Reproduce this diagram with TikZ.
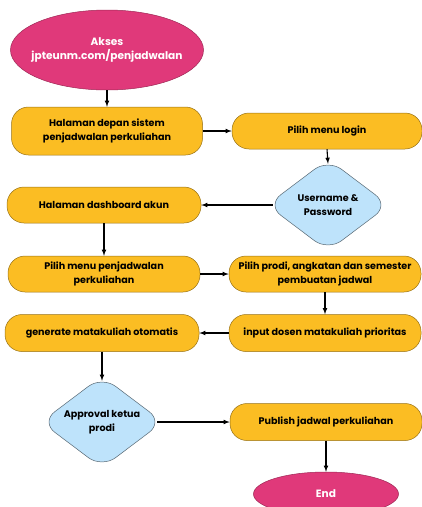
\documentclass[tikz,border=0pt]{standalone}
\usepackage{fontspec}
\setmainfont{Poppins}
\usepackage{tikz}
\usetikzlibrary{shapes.geometric, arrows, positioning}

\definecolor{termpink}{HTML}{E0397A}
\definecolor{procyellow}{HTML}{FBBD23}
\definecolor{decblue}{HTML}{BEE3FB}

\begin{document}
\begin{tikzpicture}[
    x=1pt, y=-1pt,
    terminal/.style={ellipse, draw=termpink!70!black, fill=termpink, line width=0.5pt, inner sep=0pt, inner xsep=-25pt, align=center, text=white, font=\bfseries\fontsize{10.6}{14.5}\selectfont},
    process/.style={rectangle, rounded corners=17pt, draw=procyellow!60!black, fill=procyellow, line width=0.5pt, minimum width=192pt, minimum height=36pt, inner sep=1pt, align=center, font=\bfseries\fontsize{9.6}{14}\selectfont},
    decision/.style={diamond, aspect=1.35, rounded corners=17pt, draw=decblue!45!black, fill=decblue, line width=0.5pt, minimum width=122pt, minimum height=92pt, inner sep=0pt, align=center, font=\bfseries\fontsize{9.6}{14}\selectfont},
    flow/.style={-latex, line width=1.1pt, black}
]
    \useasboundingbox (0,0) rectangle (422,507);

    % Start and login
    \node[terminal, minimum width=193pt, minimum height=80pt] (start) at (107,50) {Akses\\jpteunm.com/penjadwalan};
    \node[process, minimum width=191pt, minimum height=48pt] (depan) at (107,131) {Halaman depan sistem\\penjadwalan perkuliahan};
    \node[process, minimum width=190pt] (login) at (327,131) {Pilih menu login};
    \node[decision] (user) at (328,205) {Username \&\\Password};
    \node[process, minimum width=194pt] (dash) at (104,205) {Halaman dashboard akun};

    % Scheduling steps
    \node[process] (menujadwal) at (104,274) {Pilih menu penjadwalan\\perkuliahan};
    \node[process] (prodi) at (325,274) {Pilih prodi, angkatan dan semester\\pembuatan jadwal};
    \node[process, minimum height=37pt] (dosen) at (325,333) {input dosen matakuliah prioritas};
    \node[process, minimum width=194pt, minimum height=37pt] (generate) at (102,333) {generate matakuliah otomatis};

    % Approval and end
    \node[decision] (approval) at (102,422) {Approval ketua\\prodi};
    \node[process, minimum height=37pt] (publish) at (326,422) {Publish jadwal perkuliahan};
    \node[terminal, minimum width=145pt, minimum height=44pt] (end) at (326,494) {End};

    % Connections
    \draw[flow] (start) -- (depan);
    \draw[flow] (depan) -- (login);
    \draw[flow] (login.south) -- ([yshift=-5pt]user.north);
    \draw[flow] ([xshift=6pt]user.west) -- (dash);
    \draw[flow] (dash) -- (menujadwal);
    \draw[flow] (menujadwal) -- (prodi);
    \draw[flow] (prodi) -- (dosen);
    \draw[flow] (dosen) -- (generate);
    \draw[flow] (generate.south) -- ([yshift=-5pt]approval.north);
    \draw[flow] ([xshift=-6pt]approval.east) -- (publish);
    \draw[flow] (publish) -- (end);

\end{tikzpicture}
\end{document}
